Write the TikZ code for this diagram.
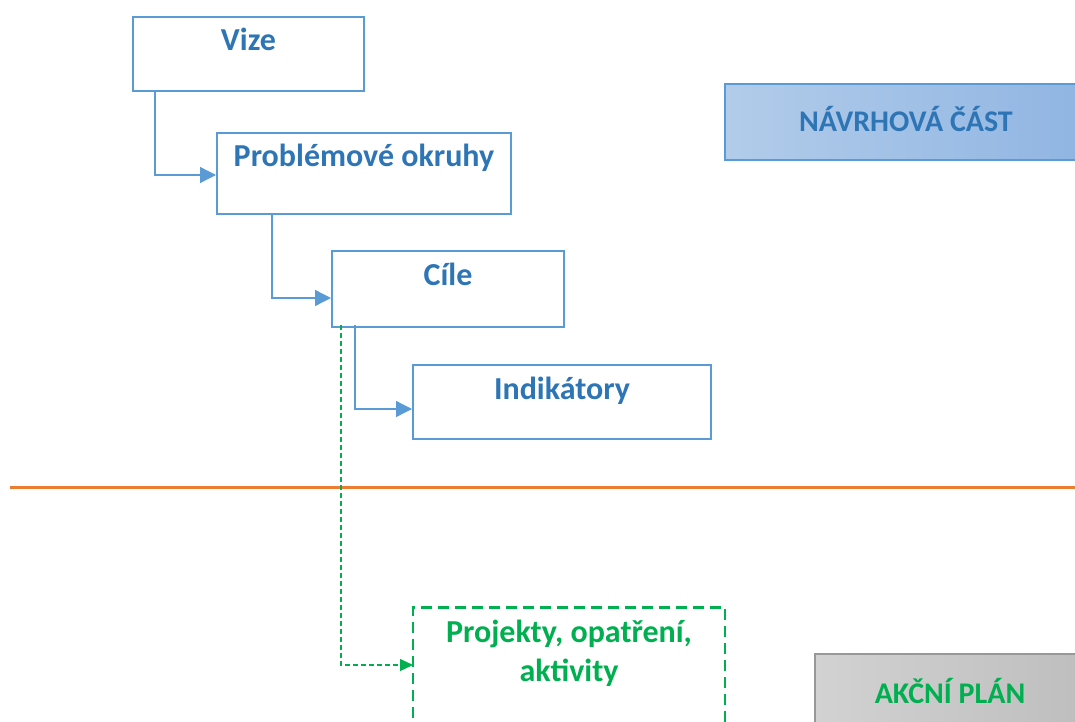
\documentclass[tikz,border=0pt]{standalone}
\usepackage{fontspec}
\setmainfont{Carlito}
\usepackage{xcolor}
\usetikzlibrary{arrows.meta}
\definecolor{boxblue}{HTML}{5B9BD5}
\definecolor{textblue}{HTML}{2E75B6}
\definecolor{lineorange}{HTML}{ED7D31}
\definecolor{planGreen}{HTML}{00B050}
\definecolor{tagblueL}{HTML}{B2CCEA}
\definecolor{tagblueR}{HTML}{90B5E2}
\definecolor{taggreyL}{HTML}{D2D2D2}
\definecolor{taggreyR}{HTML}{BEBEBE}
\tikzset{
    stagebox/.style={draw=boxblue, line width=2pt, fill=white, text=textblue, inner sep=0pt, anchor=north, text height=34pt, font=\fontsize{32}{38}\selectfont\bfseries},
    planbox/.style={draw=planGreen, line width=2.8pt, dash pattern=on 11pt off 6pt, text=planGreen, inner sep=0pt, anchor=north, align=center, font=\fontsize{32}{39}\selectfont\bfseries},
    tagbox/.style={line width=1.2pt, inner sep=0pt, text height=19pt, text depth=0pt, font=\fontsize{30}{36}\selectfont\bfseries},
    stagearrow/.style={draw=boxblue, line width=1.3pt, -{Triangle[length=16pt,width=16pt]}},
    planarrow/.style={draw=planGreen, line width=1.3pt, dash pattern=on 5pt off 3pt, -{Triangle[length=13pt,width=12pt]}}
}
\begin{document}
\begin{tikzpicture}[x=1pt, y=-1pt]
    \clip (0,0) rectangle (1075,722);
    \fill[white] (0,0) rectangle (1075,722);
    %
    \draw[lineorange, line width=3pt] (10,487) -- (1080,487);
    %
    \node[stagebox, minimum width=231pt, text depth=40pt] (vize) at (248.5,16) {Vize};
    \node[stagebox, minimum width=294pt, text depth=47pt] (okruhy) at (364,132) {Problémové okruhy};
    \node[stagebox, minimum width=232pt, text depth=42pt] (cile) at (448,250) {Cíle};
    \node[stagebox, minimum width=298pt, text depth=40pt] (indikatory) at (562,364) {Indikátory};
    \node[planbox, minimum width=312pt, text height=74pt, text depth=86pt] (projekty) at (569,606) {Projekty, opatření,\\aktivity};
    %
    \node[tagbox, draw=boxblue, left color=tagblueL, right color=tagblueR, text=textblue, minimum width=362pt, minimum height=76pt] (navrh) at (906,122) {NÁVRHOVÁ ČÁST};
    \node[tagbox, draw=taggreyR!80!black, left color=taggreyL, right color=taggreyR, text=planGreen, minimum width=270pt, minimum height=80pt] (akce) at (950,694) {AKČNÍ PLÁN};
    %
    \coordinate (vizeOut) at (155,91);
    \coordinate (okruhyOut) at (272,213);
    \coordinate (cileOut) at (355,325);
    \coordinate (cilePlan) at (341,325);
    \coordinate (projektyIn) at (413,665);
    %
    \draw[stagearrow] (vizeOut) |- ([yshift=-1.5pt]okruhy.west);
    \draw[stagearrow] (okruhyOut) |- ([yshift=-9pt]cile.west);
    \draw[stagearrow] (cileOut) |- ([yshift=-7pt]indikatory.west);
    \draw[planarrow] (cilePlan) |- (projektyIn);
\end{tikzpicture}
\end{document}
